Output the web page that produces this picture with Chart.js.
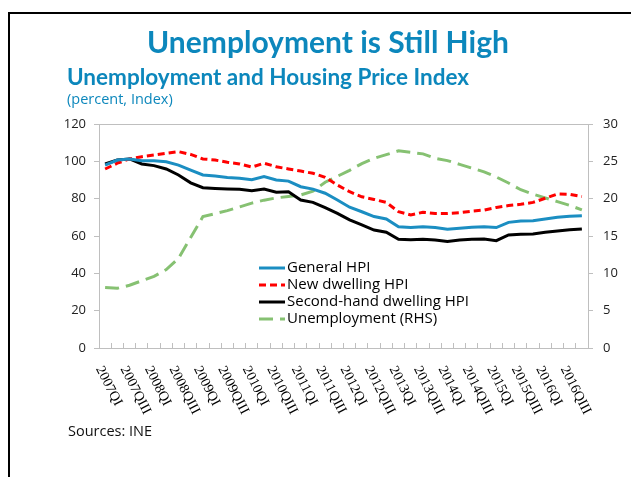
<!DOCTYPE html>
<html lang="en">
<head>
  <meta charset="UTF-8">
  <title>Unemployment is Still High</title>
  <script src="https://cdn.jsdelivr.net/npm/chart.js@4.4.1/dist/chart.umd.min.js"></script>
  <style>
    body { margin: 0; background: #fff; }
    .page { position: relative; width: 631px; height: 477px; overflow: hidden; font-family: Lato, sans-serif; }
    .frame { position: absolute; left: 8px; top: 12px; width: 700px; height: 500px; border-top: 2px solid #000; border-left: 2px solid #000; }
    .chart { position: absolute; left: 0; top: 0; width: 631px; height: 477px; }
    .title { position: absolute; left: 0; width: 656px; top: 26px; text-align: center; font-size: 30px; line-height: 30px; font-weight: bold; color: #0C87BC; white-space: nowrap; }
    .subtitle { position: absolute; left: 67px; top: 66px; font-size: 22.5px; line-height: 22.5px; font-weight: bold; color: #0C87BC; white-space: nowrap; }
    .units { position: absolute; left: 67px; top: 92px; font-family: "Open Sans", sans-serif; font-size: 14.5px; line-height: 14px; color: #0C87BC; white-space: nowrap; }
    .source { position: absolute; left: 68px; top: 424px; font-family: "Open Sans", sans-serif; font-size: 14.5px; line-height: 14px; color: #111; white-space: nowrap; }
  </style>
</head>
<body>
  <div class="page">
    <div class="frame"></div>
    <div class="chart"><canvas id="chart"></canvas></div>
    <div class="title">Unemployment is Still High</div>
    <div class="subtitle">Unemployment and Housing Price Index</div>
    <div class="units">(percent, Index)</div>
    <div class="source">Sources: INE</div>
  </div>
  <script>
    // quarters 2007QI .. 2016QIV, labels shown every second quarter
    const years = [2007, 2008, 2009, 2010, 2011, 2012, 2013, 2014, 2015, 2016];
    const quarterNames = ['QI', 'QII', 'QIII', 'QIV'];
    const quarters = years.flatMap((y) => quarterNames.map((q) => y + q));

    const generalHpi = [98.0, 100.7, 101.3, 100.3, 100.3, 99.8, 98.0, 95.3, 92.7, 92.1,
      91.4, 90.9, 90.1, 91.8, 90.0, 89.4, 86.4, 85.1, 82.9, 79.3,
      75.4, 73.0, 70.4, 69.1, 65.0, 64.6, 65.0, 64.5, 63.6, 64.1,
      64.7, 65.0, 64.5, 67.3, 68.0, 68.2, 69.1, 70.0, 70.6, 70.9];
    const newDwellingHpi = [95.9, 99.0, 101.3, 102.5, 103.4, 104.3, 105.2, 103.7, 101.3, 100.7,
      99.5, 98.6, 96.9, 99.0, 97.1, 95.9, 94.8, 93.6, 91.4, 87.3,
      83.7, 81.0, 79.6, 78.0, 73.0, 71.3, 72.7, 72.1, 72.1, 72.5,
      73.3, 73.9, 75.3, 76.3, 77.0, 78.0, 80.2, 82.5, 82.3, 81.1];
    const secondHandHpi = [98.6, 100.7, 101.3, 98.6, 97.7, 95.9, 92.7, 88.5, 85.9, 85.5,
      85.2, 85.0, 84.3, 85.2, 83.4, 83.7, 79.3, 78.0, 75.2, 72.1,
      68.6, 65.9, 63.2, 62.0, 58.2, 58.0, 58.2, 57.9, 57.0, 57.9,
      58.2, 58.4, 57.5, 60.6, 60.9, 61.1, 62.0, 62.7, 63.3, 63.8];
    const unemployment = [8.1, 8.0, 8.4, 9.0, 9.6, 10.5, 12.0, 14.8, 17.6, 18.0,
      18.4, 18.9, 19.4, 19.8, 20.1, 20.3, 20.5, 21.0, 22.2, 23.0,
      23.8, 24.7, 25.4, 25.9, 26.4, 26.2, 26.0, 25.4, 25.1, 24.6,
      24.1, 23.6, 22.9, 22.1, 21.2, 20.6, 20.1, 19.6, 19.1, 18.5];

    const axisGray = '#BFBFBF';
    const tickFont = { family: '"Open Sans", sans-serif', size: 13 };

    // x labels: serif, rotated clockwise, every second quarter
    const quarterLabels = {
      id: 'quarterLabels',
      afterDraw(chart) {
        const { ctx, scales: { x } } = chart;
        ctx.save();
        ctx.font = '14px "Liberation Serif", serif';
        ctx.fillStyle = '#000';
        ctx.textAlign = 'left';
        ctx.textBaseline = 'middle';
        quarters.forEach((q, i) => {
          if (i % 2) return;
          ctx.save();
          ctx.translate(x.getPixelForValue(i) - 6, x.top + 19);
          ctx.rotate(63 * Math.PI / 180);
          ctx.fillText(q, 0, 0);
          ctx.restore();
        });
        ctx.restore();
      }
    };

    // gray frame line on top of the plot area
    const plotFrame = {
      id: 'plotFrame',
      beforeDatasetsDraw(chart) {
        const { ctx, chartArea: a } = chart;
        ctx.save();
        ctx.strokeStyle = axisGray;
        ctx.lineWidth = 1;
        ctx.beginPath();
        ctx.moveTo(a.left, Math.round(a.top) + 0.5);
        ctx.lineTo(a.right, Math.round(a.top) + 0.5);
        ctx.stroke();
        ctx.restore();
      }
    };

    // legend inside the plot
    const innerLegend = {
      id: 'innerLegend',
      afterDatasetsDraw(chart) {
        const { ctx, chartArea: a } = chart;
        const x0 = a.left + 160;
        const y0 = a.top + 144;
        ctx.save();
        ctx.font = '15px "Open Sans", sans-serif';
        ctx.textBaseline = 'middle';
        ctx.fillStyle = '#000';
        chart.data.datasets.forEach((ds, k) => {
          const y = y0 + k * 17;
          ctx.strokeStyle = ds.borderColor;
          ctx.lineWidth = ds.borderWidth;
          ctx.setLineDash(ds.borderDash || []);
          ctx.beginPath();
          ctx.moveTo(x0, y);
          ctx.lineTo(x0 + 26, y);
          ctx.stroke();
          ctx.setLineDash([]);
          ctx.fillText(ds.label, x0 + 28, y);
        });
        ctx.restore();
      }
    };

    new Chart(document.getElementById('chart'), {
      type: 'line',
      data: {
        labels: quarters,
        datasets: [
          { label: 'General HPI', data: generalHpi, borderColor: '#1B8EC2', borderWidth: 3, yAxisID: 'y' },
          { label: 'New dwelling HPI', data: newDwellingHpi, borderColor: '#FF0000', borderWidth: 3, borderDash: [7, 4], yAxisID: 'y' },
          { label: 'Second-hand dwelling HPI', data: secondHandHpi, borderColor: '#000000', borderWidth: 3, yAxisID: 'y' },
          { label: 'Unemployment (RHS)', data: unemployment, borderColor: '#86C172', borderWidth: 3, borderDash: [14, 7], yAxisID: 'y1' }
        ]
      },
      options: {
        responsive: true,
        maintainAspectRatio: false,
        animation: false,
        layout: { padding: { top: 124, left: 0, right: 0, bottom: 0 } },
        elements: { point: { radius: 0 }, line: { tension: 0, borderCapStyle: 'butt' } },
        plugins: { legend: { display: false }, tooltip: { enabled: false } },
        scales: {
          x: {
            offset: true,
            grid: { offset: true, drawOnChartArea: false, tickLength: -5, color: axisGray },
            border: { color: axisGray },
            ticks: { display: false },
            afterFit: (s) => { s.height = 129; }
          },
          y: {
            position: 'left',
            min: 0, max: 120,
            ticks: { stepSize: 20, padding: 8, color: '#222', font: tickFont },
            grid: { drawOnChartArea: false, tickLength: 5, color: axisGray },
            border: { color: axisGray },
            afterFit: (s) => { s.width = 99; }
          },
          y1: {
            position: 'right',
            min: 0, max: 30,
            ticks: { stepSize: 5, padding: 10, color: '#222', font: tickFont },
            grid: { drawOnChartArea: false, tickLength: 5, color: axisGray },
            border: { color: axisGray },
            afterFit: (s) => { s.width = 43; }
          }
        }
      },
      plugins: [quarterLabels, plotFrame, innerLegend]
    });
  </script>
</body>
</html>
